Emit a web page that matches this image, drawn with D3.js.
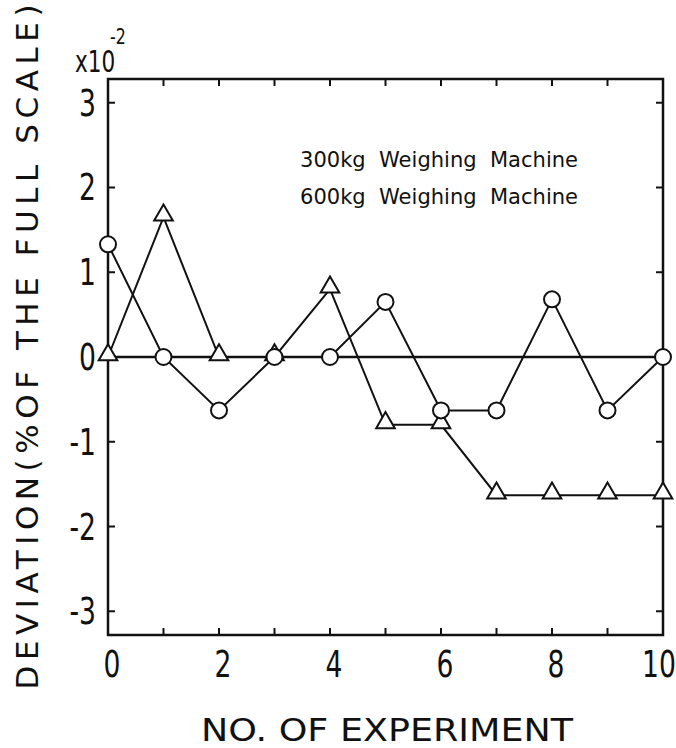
<!DOCTYPE html>
<html>
<head>
<meta charset="utf-8">
<script src="https://cdn.jsdelivr.net/npm/d3@7"></script>
<style>
  body { margin: 0; background: #fff; }
  text { font-family: "DejaVu Sans", sans-serif; fill: #111; }
</style>
</head>
<body>
<div id="chart"></div>
<script>
// experiment numbers
const experiments = [0, 1, 2, 3, 4, 5, 6, 7, 8, 9, 10];
// deviation, x10^-2 % of full scale
const circleSeries = [1.33, 0, -0.63, 0, 0, 0.65, -0.63, -0.63, 0.68, -0.63, 0];
const triangleSeries = [0, 1.65, 0, 0, 0.8, -0.8, -0.8, -1.63, -1.63, -1.63, -1.63];
const xTickLabels = [0, 2, 4, 6, 8, 10];
const yTickLabels = [-3, -2, -1, 0, 1, 2, 3];
const legendLabels = ["300kg  Weighing  Machine", "600kg  Weighing  Machine"];

const width = 676, height = 748;
const margin = { top: 79, right: 13, bottom: 113, left: 108 };
const squeeze = 0.72; // narrow the plain font to look condensed

const svg = d3.select('#chart')
  .append('svg')
  .attr('width', width)
  .attr('height', height);

const x = d3.scaleLinear()
  .domain([0, 10])
  .range([margin.left, width - margin.right]);
const y = d3.scaleLinear()
  .domain([-3.28, 3.28])
  .range([height - margin.bottom, margin.top]);

const ink = '#111';

// frame
svg.append('rect')
  .attr('x', x(0)).attr('y', y(3.28))
  .attr('width', x(10) - x(0)).attr('height', y(-3.28) - y(3.28))
  .attr('fill', 'none').attr('stroke', ink).attr('stroke-width', 2.5);

// inward ticks on all four sides
const tickLen = 7;
const inner = experiments.slice(1, -1);
svg.append('g').selectAll('line').data(inner).enter().append('line')
  .attr('x1', d => x(d)).attr('x2', d => x(d))
  .attr('y1', y(-3.28)).attr('y2', y(-3.28) - tickLen)
  .attr('stroke', ink).attr('stroke-width', 2);
svg.append('g').selectAll('line').data(inner).enter().append('line')
  .attr('x1', d => x(d)).attr('x2', d => x(d))
  .attr('y1', y(3.28)).attr('y2', y(3.28) + tickLen)
  .attr('stroke', ink).attr('stroke-width', 2);
svg.append('g').selectAll('line').data(yTickLabels).enter().append('line')
  .attr('x1', x(0)).attr('x2', x(0) + tickLen)
  .attr('y1', d => y(d)).attr('y2', d => y(d))
  .attr('stroke', ink).attr('stroke-width', 2);
svg.append('g').selectAll('line').data(yTickLabels).enter().append('line')
  .attr('x1', x(10)).attr('x2', x(10) - tickLen)
  .attr('y1', d => y(d)).attr('y2', d => y(d))
  .attr('stroke', ink).attr('stroke-width', 2);

// zero line
svg.append('line')
  .attr('x1', x(0)).attr('x2', x(10))
  .attr('y1', y(0)).attr('y2', y(0))
  .attr('stroke', ink).attr('stroke-width', 2.5);

// tick labels
svg.append('g').selectAll('text').data(xTickLabels).enter().append('text')
  .attr('transform', d => `translate(${d === 10 ? 659 : x(d) + 4},677) scale(${squeeze},1)`)
  .attr('text-anchor', 'middle')
  .attr('font-size', 37)
  .text(d => d);
svg.append('g').selectAll('text').data(yTickLabels).enter().append('text')
  .attr('transform', d => `translate(96,${y(d) + 13}) scale(${squeeze},1)`)
  .attr('text-anchor', 'end')
  .attr('font-size', 37)
  .text(d => d < 0 ? '-' + Math.abs(d) : d);

// series
const line = d3.line()
  .x((d, i) => x(experiments[i]))
  .y(d => y(d));

svg.append('path')
  .datum(triangleSeries)
  .attr('d', line)
  .attr('fill', 'none').attr('stroke', ink).attr('stroke-width', 2);
svg.append('path')
  .datum(circleSeries)
  .attr('d', line)
  .attr('fill', 'none').attr('stroke', ink).attr('stroke-width', 2);

const tri = d3.symbol().type(d3.symbolTriangle).size(150);
svg.append('g').selectAll('path').data(triangleSeries).enter().append('path')
  .attr('d', tri)
  .attr('transform', (d, i) => `translate(${x(experiments[i])},${y(d) - 2})`)
  .attr('fill', '#fff').attr('stroke', ink).attr('stroke-width', 2);

svg.append('g').selectAll('circle').data(circleSeries).enter().append('circle')
  .attr('cx', (d, i) => x(experiments[i]))
  .attr('cy', d => y(d))
  .attr('r', 8)
  .attr('fill', '#fff').attr('stroke', ink).attr('stroke-width', 2);

// legend text
svg.append('g').selectAll('text').data(legendLabels).enter().append('text')
  .attr('x', 300)
  .attr('y', (d, i) => 167 + i * 37)
  .attr('font-size', 21)
  .attr('textLength', 278)
  .attr('lengthAdjust', 'spacingAndGlyphs')
  .style('white-space', 'pre')
  .text(d => d);

// scale factor
svg.append('text')
  .attr('transform', `translate(75,72) scale(${squeeze},1)`)
  .attr('font-size', 30)
  .text('x10');
svg.append('text')
  .attr('transform', `translate(110,44) scale(${squeeze},1)`)
  .attr('font-size', 22)
  .text('-2');

// axis titles
svg.append('text')
  .attr('x', 387).attr('y', 741)
  .attr('text-anchor', 'middle')
  .attr('font-size', 32)
  .attr('textLength', 372)
  .attr('lengthAdjust', 'spacingAndGlyphs')
  .text('NO. OF EXPERIMENT');

svg.append('text')
  .attr('transform', 'translate(38,347) rotate(-90)')
  .attr('text-anchor', 'middle')
  .attr('font-size', 31)
  .attr('textLength', 685)
  .attr('lengthAdjust', 'spacing')
  .text('DEVIATION(%OF THE FULL SCALE)');
</script>
</body>
</html>
